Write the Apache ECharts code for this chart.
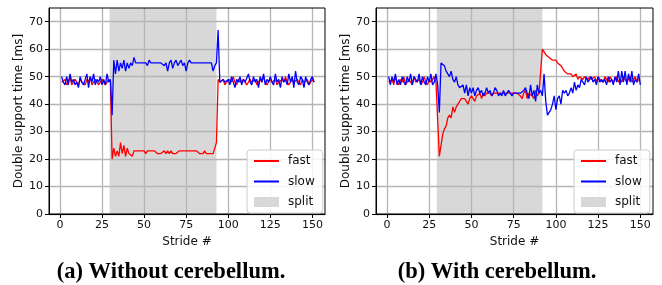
<!DOCTYPE html>
<html>
<head>
<meta charset="utf-8">
<script src="https://cdn.jsdelivr.net/npm/echarts@6/dist/echarts.min.js"></script>
<style>
  html, body { margin: 0; padding: 0; background: #fff; }
  #chart { width: 662px; height: 285px; }
</style>
</head>
<body>
<div id="chart"></div>
<script type="text/javascript">
// (a) without cerebellum, strides 1..151
var fastA = [
  48,48,49,47,48,50,47,48,49,48, 47,49,48,48,47,49,48,50,47,48, 49,48,47,48,49,48,47,48,49,48,
  20,24,21,23,21,26,22,25,21,24, 22,22,21,23,23,23,23,23,23,23, 22,23,23,23,23,23,23,22,22,22,
  22,23,22,23,22,23,22,22,22,22, 23,23,23,23,23,23,23,23,23,23, 23,23,22,22,22,23,22,22,22,22,
  22,22,26,
  49,48,48,49,47,48,48,49,48,50, 48,47,49,48,48,49,48,47,48,49, 48,48,49,47,48,49,48,50,48,47,
  48,49,48,48,49,47,48,48,49,48, 50,48,47,48,49,48,48,49,48,47, 49,48,48,49,47,48,49,48
];
var slowA = [
  50,48,47,50,47,51,48,49,47,48, 46,50,48,47,49,51,46,50,48,51, 47,49,48,50,47,49,47,51,48,49,
  36,56,51,56,52,55,53,56,52,55, 53,55,54,57,55,55,55,55,55,55, 55,54,56,55,55,55,55,55,55,55,
  55,54,55,52,55,56,53,55,56,54, 55,56,54,55,52,55,56,55,55,55, 55,55,55,55,55,55,55,55,55,55,
  52,54,55,
  67,48,48,49,48,48,49,47,50,48, 46,49,48,50,47,49,48,48,51,48, 47,50,48,49,46,50,48,51,47,49,
  48,50,48,47,51,48,49,46,50,48, 49,47,51,48,50,46,52,48,47,50, 49,46,50,48,47,49,50,48
];
// (b) with cerebellum, strides 1..150
var fastB = [
  48,48,49,47,50,48,47,49,48,50, 47,48,49,48,47,50,48,48,49,47, 48,50,48,47,49,48,48,50,48,
  48,21,25,29,31,32,35,36,35,39, 37,39,40,41,42,42,42,41,40,42, 43,42,41,43,43,44,42,44,43,44,
  44,44,43,44,44,44,44,44,44,44, 44,44,44,44,44,44,44,44,44,43, 42,44,45,42,44,44,43,42,45,43,
  44,44,
  60,59,58,58,57,57,56,56,56,55, 55,54,53,52,52,51,51,51,50,50, 51,49,50,50,49,50,50,49,50,49,
  49,50,48,50,49,49,48,50,49,48, 50,49,48,49,50,48,49,48,50,49, 48,49,50,48,49,50,48,49
];
var slowB = [
  50,47,50,48,51,47,49,47,50,48, 47,50,48,51,47,50,49,48,51,47, 50,48,47,50,48,51,47,48,51,
  47,37,55,55,54,52,51,50,52,49, 48,50,47,46,46,47,44,47,43,46, 44,46,43,45,46,44,45,43,44,46,
  44,45,43,44,46,45,43,44,43,45, 43,44,45,44,43,44,44,44,44,44, 44,45,46,44,42,47,43,45,41,47,
  44,45,43,
  51,41,36,37,38,40,43,38,42,43, 40,45,44,45,43,44,46,44,48,45, 47,46,49,48,47,50,48,49,50,48,
  49,47,50,48,49,48,49,47,50,48, 49,47,50,48,52,47,52,48,52,47, 51,48,52,47,49,48,51,47
];
var splitA = [29.5, 93];
var splitB = [29.5, 92];
var xTicks = [0, 25, 50, 75, 100, 125, 150];
var yTicks = [0, 10, 20, 30, 40, 50, 60, 70];
var titles = ['(a) Without cerebellum.', '(b) With cerebellum.'];

function pairs(arr) {
  return arr.map(function (v, i) { return [i + 1, v]; });
}

var myChart = echarts.init(document.getElementById('chart'));

var grids = [
  { left: 49, top: 8, width: 276, height: 206 },
  { left: 376, top: 8, width: 277, height: 206 }
];
var font = '"DejaVu Sans", sans-serif';

function xAxisFor(i) {
  return {
    gridIndex: i, type: 'value', min: -6.5, max: 157.5, z: 2,
    name: 'Stride #', nameLocation: 'middle', nameGap: 15,
    nameTextStyle: { fontFamily: font, fontSize: 12, color: '#111' },
    axisLine: { show: true, onZero: false, lineStyle: { color: '#000', width: 1 } },
    axisTick: { show: true, length: 4, customValues: xTicks, lineStyle: { color: '#000' } },
    axisLabel: { customValues: xTicks, margin: 6, fontFamily: font, fontSize: 11, color: '#111' },
    splitLine: { show: true, customValues: xTicks, lineStyle: { color: '#b5b5b5', width: 1.3 } }
  };
}
function yAxisFor(i) {
  return {
    gridIndex: i, type: 'value', min: 0, max: 75, z: 2,
    name: 'Double support time [ms]', nameLocation: 'middle', nameGap: 22,
    nameTextStyle: { fontFamily: font, fontSize: 12, color: '#111' },
    axisLine: { show: true, onZero: false, lineStyle: { color: '#000', width: 1 } },
    axisTick: { show: true, length: 4, customValues: yTicks, lineStyle: { color: '#000' } },
    axisLabel: { customValues: yTicks, margin: 6, fontFamily: font, fontSize: 11, color: '#111' },
    splitLine: { show: true, customValues: yTicks, lineStyle: { color: '#b5b5b5', width: 1.3 } }
  };
}
function lineSeries(name, color, data, i) {
  return {
    name: name, type: 'line', xAxisIndex: i, yAxisIndex: i, z: 3,
    data: pairs(data), symbol: 'none', showSymbol: false, animation: false,
    color: color, lineStyle: { color: color, width: 1.3 }
  };
}
function splitSeries(range, i) {
  return {
    name: 'split', type: 'line', xAxisIndex: i, yAxisIndex: i, z: 1,
    data: [], symbol: 'none', color: '#d8d8d8', animation: false,
    markArea: {
      silent: true,
      itemStyle: { color: '#d8d8d8' },
      data: [[{ xAxis: range[0] }, { xAxis: range[1] }]]
    }
  };
}
function legendFor(left) {
  return {
    left: left, top: 150, orient: 'vertical',
    padding: [5, 8, 5, 6], itemWidth: 25, itemHeight: 10, itemGap: 8.5,
    backgroundColor: 'rgba(255,255,255,0.85)', borderColor: '#cccccc', borderWidth: 1, borderRadius: 3,
    textStyle: { fontFamily: font, fontSize: 12, color: '#111', padding: [0, 0, 0, 4] },
    data: [
      { name: 'fast', itemStyle: { opacity: 0 } },
      { name: 'slow', itemStyle: { opacity: 0 } },
      { name: 'split', icon: 'rect' }
    ]
  };
}

var option = {
  animation: false,
  grid: grids.map(function (g) {
    return Object.assign({ show: true, z: 4, borderColor: '#000', borderWidth: 1, backgroundColor: 'transparent' }, g);
  }),
  xAxis: [xAxisFor(0), xAxisFor(1)],
  yAxis: [yAxisFor(0), yAxisFor(1)],
  legend: [legendFor(247), legendFor(574)],
  series: [
    splitSeries(splitA, 0),
    lineSeries('fast', '#ff0000', fastA, 0),
    lineSeries('slow', '#0000ff', slowA, 0),
    splitSeries(splitB, 1),
    lineSeries('fast', '#ff0000', fastB, 1),
    lineSeries('slow', '#0000ff', slowB, 1)
  ],
  graphic: [
    { type: 'text', x: 171, y: 272, style: { text: titles[0], font: 'bold 22.5px "Liberation Serif", serif', align: 'center', verticalAlign: 'middle', fill: '#000' } },
    { type: 'text', x: 497, y: 272, style: { text: titles[1], font: 'bold 22.5px "Liberation Serif", serif', align: 'center', verticalAlign: 'middle', fill: '#000' } }
  ]
};

myChart.setOption(option);
</script>
</body>
</html>
